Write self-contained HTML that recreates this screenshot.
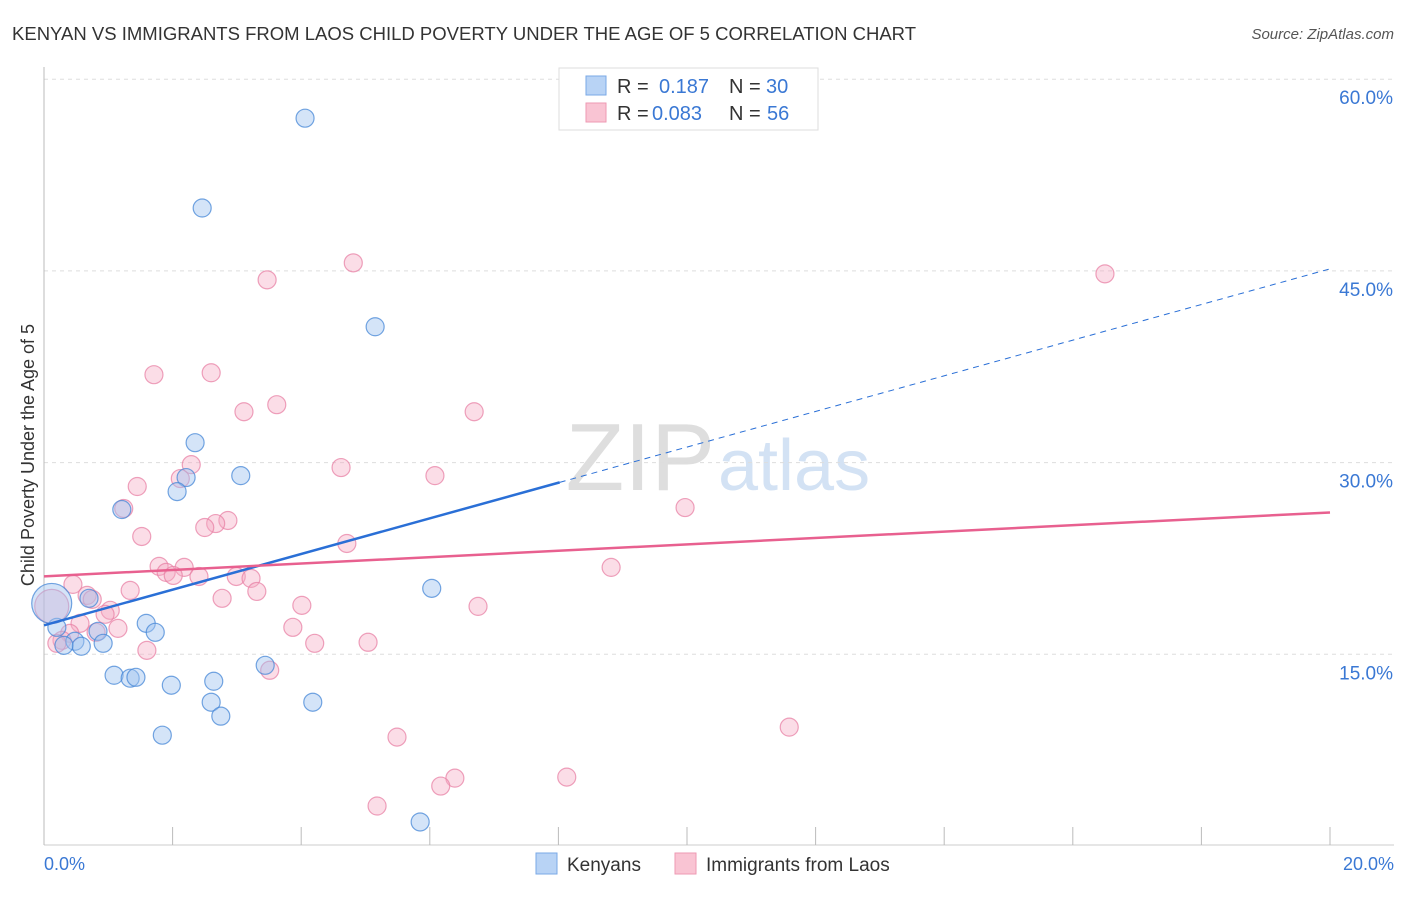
<!DOCTYPE html>
<html><head><meta charset="utf-8"><style>
body{margin:0;background:#fff;font-family:"Liberation Sans",sans-serif}
svg text{font-family:"Liberation Sans",sans-serif}
</style></head><body>
<svg id="c" width="1406" height="892" xmlns="http://www.w3.org/2000/svg">
<text x="12" y="40" font-size="18" fill="#333" textLength="904" lengthAdjust="spacingAndGlyphs">KENYAN VS IMMIGRANTS FROM LAOS CHILD POVERTY UNDER THE AGE OF 5 CORRELATION CHART</text>
<text x="1394" y="39" font-size="15" fill="#555" font-style="italic" text-anchor="end">Source: ZipAtlas.com</text>
<text x="715" y="490" font-size="96" fill="#dedede" text-anchor="end" font-family="Liberation Serif">ZIP</text>
<text x="718" y="490" font-size="72" fill="#d3e2f4">atlas</text>
<g id="grid"></g><g id="pts"></g><g id="lines"></g>
<text transform="translate(34,455) rotate(-90)" font-size="18" fill="#333" text-anchor="middle">Child Poverty Under the Age of 5</text>
<text x="44" y="870" font-size="18" fill="#3a78d4">0.0%</text>
<text x="1394" y="870" font-size="18" fill="#3a78d4" text-anchor="end">20.0%</text>
<g>
<rect x="559" y="68" width="259" height="62" fill="#fff" stroke="#ddd"/>
<rect x="586" y="76" width="20" height="19" fill="#b8d3f5" stroke="#7aa8e6"/>
<rect x="586" y="103" width="20" height="19" fill="#f9c4d3" stroke="#ee9ab3"/>
<text x="617" y="93" font-size="20" fill="#333">R = </text><text x="659" y="93" font-size="20" fill="#3a78d4">0.187</text>
<text x="729" y="93" font-size="20" fill="#333">N = </text><text x="766" y="93" font-size="20" fill="#3a78d4">30</text>
<text x="617" y="120" font-size="20" fill="#333">R = </text><text x="652" y="120" font-size="20" fill="#3a78d4">0.083</text>
<text x="729" y="120" font-size="20" fill="#333">N = </text><text x="767" y="120" font-size="20" fill="#3a78d4">56</text>
</g>
<g>
<rect x="536" y="853" width="21" height="21" fill="#b8d3f5" stroke="#7aa8e6"/>
<text x="567" y="871" font-size="19" fill="#333">Kenyans</text>
<rect x="675" y="853" width="21" height="21" fill="#f9c4d3" stroke="#ee9ab3"/>
<text x="706" y="871" font-size="19" fill="#333">Immigrants from Laos</text>
</g>
</svg>
<script>
const blueX=[4.06,2.46,5.15,2.35,3.06,2.21,2.07,1.21,6.03,0.70,0.20,1.59,1.73,0.84,0.48,0.92,0.58,1.09,1.34,1.43,1.98,2.64,3.44,2.60,4.18,2.75,1.84,5.85,0.12,0.31];
const blueY=[56.95,49.92,40.63,31.56,28.98,28.83,27.73,26.33,20.16,19.38,17.11,17.42,16.72,16.80,16.02,15.86,15.63,13.36,13.13,13.20,12.58,12.89,14.14,11.25,11.25,10.16,8.67,1.88,18.98,15.70];
const pinkX=[16.50,4.81,3.47,1.71,2.60,3.11,3.62,6.69,4.62,6.08,2.29,2.12,1.45,1.24,9.97,2.86,2.67,2.50,1.52,4.71,1.79,2.18,1.90,2.01,2.41,2.99,3.22,0.45,1.34,3.31,8.82,0.67,0.75,2.77,6.75,4.01,1.03,0.95,0.56,1.15,3.87,0.81,0.40,0.28,0.20,4.21,5.04,1.60,3.51,5.49,11.59,6.39,6.17,8.13,5.18,0.12];
const pinkY=[44.77,45.63,44.30,36.88,37.03,33.98,34.53,33.98,29.61,28.98,29.84,28.75,28.13,26.41,26.48,25.47,25.23,24.92,24.22,23.67,21.88,21.80,21.41,21.17,21.09,21.09,20.94,20.47,20.00,19.92,21.80,19.61,19.30,19.38,18.75,18.83,18.44,18.13,17.42,17.03,17.11,16.72,16.64,16.09,15.86,15.86,15.94,15.31,13.75,8.52,9.30,5.31,4.69,5.39,3.13,18.75];
const yTicks=[15,30,45,60];
const yTickLabels=["15.0%","30.0%","45.0%","60.0%"];
const xTicks=[0,2,4,6,8,10,12,14,16,18,20];
const blueTrend=[17.27,45.16], pinkTrend=[21.1,26.1], blueSolidEnd=8.02;
const X=v=>44+v*64.3, Y=v=>846-v*12.78;
const NS="http://www.w3.org/2000/svg";
function mk(t,a,p){const e=document.createElementNS(NS,t);for(const k in a)e.setAttribute(k,a[k]);p.appendChild(e);return e;}
const g=document.getElementById('grid');
yTicks.forEach((t,i)=>{
 const l=mk('line',{x1:44,x2:1394,y1:Y(t),y2:Y(t),stroke:'#ddd','stroke-dasharray':'4,4'},g);
 
 
 const tx=mk('text',{x:1393,y:Y(t)+25,'font-size':19,fill:'#3a78d4','text-anchor':'end'},g);tx.textContent=yTickLabels[i];
 
 
});
const ax=mk('line',{x1:44,x2:44,y1:67,y2:845,stroke:'#bbb'},g);


const bx=mk('line',{x1:44,x2:1394,y1:845,y2:845,stroke:'#ccc'},g);


xTicks.forEach(t=>{const l=mk('line',{x1:X(t),x2:X(t),y1:827,y2:845,stroke:'#bbb'},g);
 
 });
const p=document.getElementById('pts');
pinkX.forEach((v,i)=>{const big=i===pinkX.length-1;
 const c=mk('circle',{cx:X(v),cy:Y(pinkY[i]),r:big?17:9,fill:'rgba(246,170,195,0.4)',stroke:'rgba(232,130,165,0.75)','stroke-width':1.2},p);
 
 });
blueX.forEach((v,i)=>{const big=i===blueX.length-2;
 const c=mk('circle',{cx:X(v),cy:Y(blueY[i]),r:big?20:9,fill:'rgba(160,196,240,0.45)',stroke:'rgba(70,135,215,0.75)','stroke-width':1.2},p);
 
 });
const L=document.getElementById('lines');
const bAt=x=>blueTrend[0]+(blueTrend[1]-blueTrend[0])*x/20;
let a=mk('line',{x1:X(0),y1:Y(bAt(0)),x2:X(blueSolidEnd),y2:Y(bAt(blueSolidEnd)),stroke:'#2a6fd6','stroke-width':2.5},L);


a=mk('line',{x1:X(blueSolidEnd),y1:Y(bAt(blueSolidEnd)),x2:X(20),y2:Y(bAt(20)),stroke:'#2a6fd6','stroke-width':1,'stroke-dasharray':'6,5'},L);


a=mk('line',{x1:X(0),y1:Y(pinkTrend[0]),x2:X(20),y2:Y(pinkTrend[1]),stroke:'#e8608f','stroke-width':2.5},L);


</script>
</body></html>
